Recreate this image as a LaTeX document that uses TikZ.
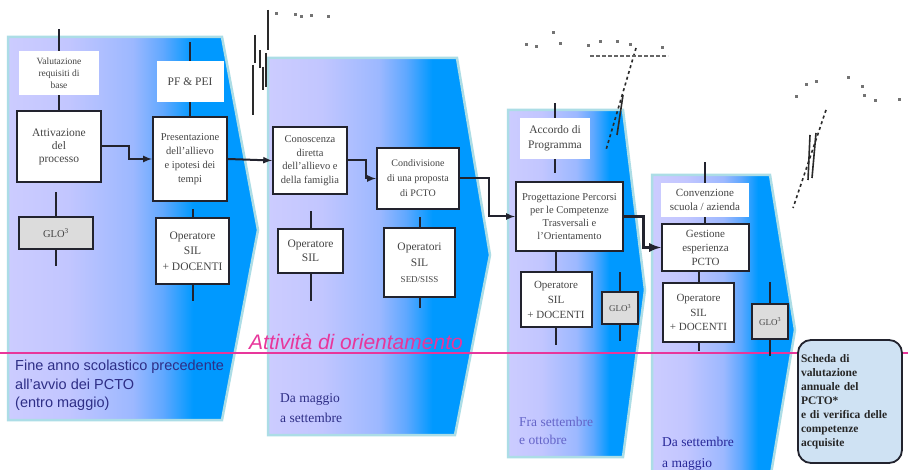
\documentclass[tikz,border=0pt]{standalone}
\usepackage{fontspec}
\setmainfont{Liberation Serif}
\setsansfont{Liberation Sans}
\usepackage{tikz}

\definecolor{lav}{HTML}{CCCCFF}
\definecolor{lavmid}{HTML}{C2C6FF}
\definecolor{skymid}{HTML}{9CB8FF}
\definecolor{skylt}{HTML}{60A8FF}
\definecolor{sky}{HTML}{0099FF}
\definecolor{panelrim}{HTML}{ACDDE6}
\definecolor{boxline}{HTML}{22232E}
\definecolor{boxtext}{HTML}{444444}
\definecolor{glogrey}{HTML}{DCDCDC}
\definecolor{orient}{HTML}{E8369B}
\definecolor{navy}{HTML}{2E2E86}
\definecolor{pale}{HTML}{6464C8}
\definecolor{schedafill}{HTML}{CFE2F3}
\definecolor{scrib}{HTML}{2A2A2A}

\pgfdeclarehorizontalshading{panelshade}{100bp}{color(0bp)=(lav); color(25bp)=(lav); color(37bp)=(lavmid); color(50bp)=(skymid); color(56bp)=(skylt); color(62bp)=(sky); color(100bp)=(sky)}

\tikzset{
  panel/.style={shading=panelshade, draw=panelrim, line width=2.5pt, line join=miter},
  box/.style={draw=boxline, fill=white, line width=2pt, text=boxtext, align=center, inner sep=1pt, font=\fontsize{11}{13}\selectfont},
  tag/.style={fill=white, text=boxtext, align=center, inner sep=1pt, font=\fontsize{11}{13}\selectfont},
  glo/.style={box, fill=glogrey, font=\fontsize{10.5}{12}\selectfont},
  tick/.style={draw=boxline, line width=2pt},
  link/.style={draw=boxline, line width=2pt, ->, >=latex},
  when/.style={anchor=north west, inner sep=0pt, align=left, font=\fontsize{13.5}{20}\selectfont},
  scribble/.style={draw=scrib, line width=2pt},
}

\begin{document}
\begin{tikzpicture}[x=1pt,y=-1pt]
\useasboundingbox (0,0) rectangle (908,470);
\clip (0,0) rectangle (908,470);
\fill[white] (0,0) rectangle (908,470);
%panels
\draw[panel] (8,37)--(222,37)--(258,230)--(222,420)--(8,420)--cycle;
\draw[panel] (268,58)--(457,58)--(490,255)--(455,435)--(268,435)--cycle;
\draw[panel] (508,110)--(623,110)--(645,290)--(623,457)--(508,457)--cycle;
\draw[panel] (652,175)--(770,175)--(795,330)--(770,480)--(652,480)--cycle;
%stray marks
\draw[scribble] (268,10)--(268,50);
\draw[scribble] (255,35)--(255,63);
\draw[scribble] (253,65)--(253,115);
\draw[scribble] (260,50)--(260,68);
\draw[scribble] (263,67)--(263,90);
\draw[scribble,line width=1.4pt] (266,53)--(266,87);
\draw[scribble,line width=1.6pt,dashed] (636,48)--(606,150);
\draw[scribble,line width=1.6pt] (623,95)--(617,135);
\draw[scribble,line width=1.6pt,dashed] (826,110)--(793,208);
\draw[scribble,line width=1.6pt] (810,135)--(808,180);
\draw[scribble,line width=1.6pt] (816,133)--(812,178);
\foreach \x/\y in {276/14,295/15,301/17,311/16,328/17,526/45,536/47,553/33,560/44,588/46,600/42,617/42,630/45,662/48,796/97,806/85,816/82,848/78,862/87,864/96,875/101,899/100}
  \fill[black!55] (\x-1.5,\y-1.5) rectangle (\x+1.5,\y+1.5);
\draw[black!60,line width=2.2pt,dash pattern=on 4pt off 2pt] (590,56)--(668,56);
%orientation line
\draw[orient, line width=2.5pt] (0,353)--(908,353);
\node[orient, anchor=base, inner sep=0pt, font=\sffamily\itshape\fontsize{21}{21}\selectfont] (orientamento) at (356,350) {Attività di orientamento};
%panel one
\node[tag, minimum width=80pt, minimum height=44pt, font=\fontsize{9.5}{12}\selectfont] (valut) at (59,73) {Valutazione\\requisiti di\\base};
\node[box, minimum width=84pt, minimum height=71pt, font=\fontsize{11.5}{13}\selectfont] (attiv) at (59,146.5) {Attivazione\\del\\processo};
\node[glo, minimum width=74pt, minimum height=32pt] (glo1) at (56,233) {GLO\textsuperscript{3}};
\node[tag, minimum width=67pt, minimum height=41pt, font=\fontsize{11.5}{13}\selectfont] (pfpei) at (190,81.5) {PF \& PEI};
\node[box, minimum width=74pt, minimum height=84pt, font=\fontsize{10.5}{14}\selectfont] (present) at (190,159) {Presentazione\\dell'allievo\\e ipotesi dei\\tempi};
\node[box, minimum width=73pt, minimum height=66pt, font=\fontsize{11.5}{15.5}\selectfont] (oper1) at (192.5,251) {Operatore\\SIL\\+ DOCENTI};
\draw[tick] (valut.north)--++(0,-22);
\draw[tick] (valut.south)--(valut.south |- attiv.north);
\draw[tick] (glo1.north)--++(0,-24);
\draw[tick] (glo1.south)--++(0,16);
\draw[tick] (pfpei.north)--++(0,-19);
\draw[tick] (pfpei.south)--(pfpei.south |- present.north);
\draw[tick] (oper1.north)--++(0,-8);
\draw[tick] (oper1.south)--++(0,16);
\draw[link] (attiv.east)--++(27,0)|-(present.west);
%panel two
\node[box, minimum width=74pt, minimum height=67pt, font=\fontsize{10.5}{13.5}\selectfont] (conosc) at (310,160.5) {Conoscenza\\diretta\\dell'allievo e\\della famiglia};
\node[box, minimum width=82pt, minimum height=61pt, font=\fontsize{10}{15}\selectfont] (condiv) at (418,178.5) {Condivisione\\di una proposta\\di PCTO};
\node[box, minimum width=65pt, minimum height=44pt, font=\fontsize{11.5}{14}\selectfont] (opsil2) at (310.5,251) {Operatore\\SIL};
\node[box, minimum width=71pt, minimum height=69pt, font=\fontsize{11.5}{16}\selectfont] (opsed) at (419.5,262.5) {Operatori\\SIL\\{\fontsize{9}{10}\selectfont SED/SISS}};
\draw[link] (present.east)--(conosc.west);
\draw[link] (conosc.east)--++(18,0)|-(condiv.west);
\draw[tick] (opsil2.north)--++(0,-17);
\draw[tick] (opsil2.south)--++(0,27);
\draw[tick] (opsed.north)--++(0,-10);
\draw[tick] (opsed.south)--++(0,10);
%panel three
\node[tag, minimum width=70pt, minimum height=41pt, font=\fontsize{11.5}{15}\selectfont] (accordo) at (555,138.5) {Accordo di\\Programma};
\node[box, minimum width=107pt, minimum height=69pt, font=\fontsize{10.5}{13}\selectfont] (proget) at (569.5,216.5) {Progettazione Percorsi\\per le Competenze\\Trasversali e\\l'Orientamento};
\node[box, minimum width=71pt, minimum height=55pt, font=\fontsize{11}{15}\selectfont] (opsil3) at (556,299.5) {Operatore\\SIL\\+ DOCENTI};
\node[glo, minimum width=36pt, minimum height=32pt, font=\fontsize{9}{10}\selectfont] (glo3) at (620,308) {GLO\textsuperscript{3}};
\draw[link] (condiv.east)--++(29,0)|-(proget.west);
\draw[tick] (accordo.north)--++(0,-15);
\draw[tick] (accordo.south)--++(0,14);
\draw[tick] (opsil3.north |- proget.south)--(opsil3.north);
\draw[tick] (opsil3.south)--++(0,17);
\draw[tick] (glo3.north)--++(0,-19);
\draw[tick] (glo3.south)--++(0,16);
%panel four
\node[tag, minimum width=88pt, minimum height=34pt, font=\fontsize{11}{14}\selectfont] (conv) at (705,200) {Convenzione\\scuola / azienda};
\node[box, minimum width=87pt, minimum height=47pt, font=\fontsize{11}{14}\selectfont] (gest) at (705.5,247.5) {Gestione\\esperienza\\PCTO};
\node[box, minimum width=71pt, minimum height=59pt, font=\fontsize{11}{14.5}\selectfont] (opsil4) at (698.5,312.5) {Operatore\\SIL\\+ DOCENTI};
\node[glo, minimum width=36pt, minimum height=35pt, font=\fontsize{9}{10}\selectfont] (glo4) at (770,321.5) {GLO\textsuperscript{3}};
\draw[link, line width=3pt] (proget.east)--++(19,0)|-(gest.west);
\draw[tick] (conv.north)--++(0,-21);
\draw[tick] (conv.south)--(conv.south |- gest.north);
\draw[tick] (opsil4.north |- gest.south)--(opsil4.north);
\draw[tick] (opsil4.south)--++(0,8);
\draw[tick] (glo4.north)--++(0,-21);
\draw[tick] (glo4.south)--++(0,16);
%times
\node[when, navy, font=\sffamily\fontsize{14.5}{18.5}\selectfont] (fine) at (15,360) {Fine anno scolastico precedente\\all'avvio dei PCTO\\(entro maggio)};
\node[when, navy] (maggio) at (280,393) {Da maggio\\a settembre};
\node[when, pale, font=\fontsize{13.5}{18}\selectfont] (fra) at (519,417) {Fra settembre\\e ottobre};
\node[when, navy!85!blue, font=\fontsize{13.5}{21}\selectfont] (dasett) at (662,437) {Da settembre\\a maggio};
%scheda
\node[draw=boxline, fill=schedafill, line width=1.8pt, rounded corners=13pt, minimum width=104pt, minimum height=123pt, text width=98pt, inner xsep=3pt, align=left, font=\bfseries\fontsize{11.5}{14}\selectfont, text=black!85] (scheda) at (850,401.5) {Scheda di\\valutazione\\annuale del\\PCTO*\\e di verifica delle\\competenze\\acquisite};
\end{tikzpicture}
\end{document}
